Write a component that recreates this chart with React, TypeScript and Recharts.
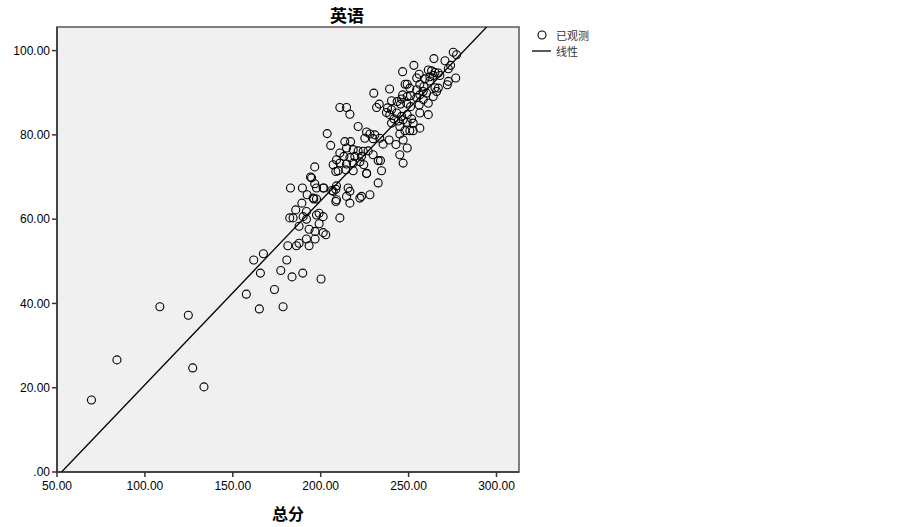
import { ScatterChart, Scatter, XAxis, YAxis, CartesianGrid, ReferenceArea } from "recharts";

// 总分 (x) and 英语 (y), point by point
const totalScores = [
  69.6, 84.1, 108.5, 124.7, 127.2, 133.6,
  157.7, 165.1, 178.6, 173.7, 161.9, 167.4, 165.7, 177.3, 180.7, 183.7, 189.8, 200.2,
  181.3, 186.2, 187.7, 191.9, 193.4, 196.8, 182.4, 184.3, 187.7, 193.4, 196.8, 201.4, 202.9,
  182.8, 189.6, 192.3, 189.3, 185.8, 191.9, 190.0, 191.9, 197.6, 199.1, 201.4, 199.1,
  196.1, 197.6, 194.2, 196.6, 197.6, 201.8, 206.3, 208.6, 208.6, 210.9, 208.6, 196.6, 194.8,
  232.7, 228.0, 223.2, 226.1, 209.0, 215.6, 216.6, 214.7, 216.6, 222.3, 209.0, 207.1, 201.4, 195.7,
  203.7, 205.7, 210.9, 214.7, 216.6, 230.2, 231.8, 233.3, 239.2, 246.6, 253.0, 256.0, 254.6,
  264.4, 270.7, 275.4, 277.3, 273.9, 272.6, 276.8, 272.6, 272.0,
  261.2, 263.1, 265.0, 266.9, 264.0, 262.1, 267.8, 259.3,
  248.0, 249.2, 250.7, 256.4, 258.7, 262.1, 265.0, 266.9, 254.6, 258.3,
  246.6, 249.2, 246.0, 251.1, 254.6, 256.4, 260.2, 264.0, 265.9, 258.3, 261.2, 256.0,
  240.3, 243.5, 245.4, 248.9, 251.1, 238.0, 240.3, 237.4, 239.3, 243.2, 246.0, 249.2, 251.7,
  256.4, 261.2, 256.4, 241.6, 244.1, 246.9, 249.2, 252.6, 240.3, 245.0, 247.9, 250.7, 252.6,
  245.0, 221.3, 226.1, 228.0, 230.8, 225.1, 229.8, 233.6, 235.5, 238.9, 242.8, 246.9, 249.2,
  245.0, 246.9, 213.7, 217.0, 214.7, 218.5, 221.3, 224.2, 227.0, 210.9, 213.2, 216.6, 219.4,
  223.2, 229.8, 232.7, 234.0, 209.0, 207.1, 210.9, 214.7, 218.5, 222.3, 224.5, 209.9, 214.3,
  218.5, 226.1, 234.6,
];

const englishScores = [
  17.1, 26.6, 39.2, 37.2, 24.7, 20.2,
  42.2, 38.7, 39.2, 43.3, 50.3, 51.8, 47.2, 47.8, 50.3, 46.3, 47.2, 45.8,
  53.7, 53.7, 54.3, 55.3, 53.7, 55.3, 60.3, 60.3, 58.3, 57.6, 57.1, 56.8, 56.3,
  67.4, 67.4, 65.8, 63.8, 62.2, 61.8, 60.6, 60.0, 61.0, 61.4, 60.6, 58.9,
  64.8, 64.8, 70.0, 68.4, 67.4, 67.4, 66.8, 67.1, 64.2, 60.3, 71.3, 72.4, 69.8,
  68.6, 65.8, 65.4, 70.8, 67.9, 67.4, 66.6, 65.4, 63.8, 65.0, 64.6, 66.6, 67.4, 65.0,
  80.3, 77.5, 86.5, 86.5, 84.9, 89.9, 86.5, 87.3, 90.9, 95.0, 96.5, 94.4, 93.5,
  98.1, 97.6, 99.6, 99.0, 96.5, 95.7, 93.5, 92.7, 91.9,
  95.4, 95.2, 94.8, 94.7, 94.1, 93.8, 94.1, 93.3,
  92.0, 92.0, 91.1, 92.0, 91.5, 92.8, 91.2, 91.1, 90.7, 90.3,
  89.5, 89.1, 88.5, 89.3, 88.8, 89.5, 89.9, 89.1, 90.3, 88.4, 87.5, 87.1,
  88.1, 87.9, 87.3, 87.5, 86.7, 86.4, 86.0, 85.3, 84.8, 85.2, 84.4, 84.8, 83.8,
  85.2, 84.8, 81.6, 83.8, 83.3, 83.6, 83.0, 82.8, 82.8, 82.0, 81.0, 81.0, 81.0,
  80.2, 82.0, 80.7, 80.2, 80.0, 79.2, 79.1, 79.2, 77.8, 78.8, 77.7, 78.8, 76.9,
  75.3, 73.3, 78.4, 78.4, 76.9, 76.5, 76.2, 76.1, 76.2, 75.7, 74.9, 74.6, 74.9,
  74.9, 75.3, 73.9, 73.9, 74.1, 72.9, 73.3, 73.1, 73.3, 73.6, 72.9, 71.5, 71.7,
  71.5, 70.9, 71.5,
];

// fitted line, ends read where it meets the bottom and top of the frame
const fitX = [52.6, 294.4];
const fitY = [0, 105.6];

const xTicks = [50, 100, 150, 200, 250, 300];
const yTicks = [0, 20, 40, 60, 80, 100];

const observed = totalScores.map((x, i) => ({ x, y: englishScores[i] }));
const fitLine = fitX.map((x, i) => ({ x, y: fitY[i] }));

const FONT = "'Liberation Sans', Arial, sans-serif";
const CJK = "'Noto Sans CJK SC', sans-serif";

function Ring(props: any) {
  return <circle cx={props.cx} cy={props.cy} r={4} fill="none" stroke="#000" strokeWidth={1.1} />;
}

function NoDot() {
  return <g />;
}

function LegendBox() {
  const row = { display: "flex", alignItems: "center", height: 16, fontSize: 11, lineHeight: "16px", color: "#333", fontFamily: CJK };
  return (
    <div style={{ position: "absolute", left: 531, top: 27 }}>
      <div style={row}>
        <svg width={22} height={16}>
          <circle cx={11} cy={8} r={4} fill="none" stroke="#000" strokeWidth={1.1} />
        </svg>
        <span style={{ marginLeft: 3 }}>已观测</span>
      </div>
      <div style={row}>
        <svg width={22} height={16}>
          <line x1={1} y1={8} x2={20} y2={8} stroke="#000" strokeWidth={1.3} />
        </svg>
        <span style={{ marginLeft: 3 }}>线性</span>
      </div>
    </div>
  );
}

export default function App() {
  return (
    <div style={{ position: "absolute", left: 0, top: 0, width: 903, height: 527, background: "#fff" }}>
      <ScatterChart width={903} height={527} margin={{ top: 27, right: 384, bottom: 0, left: 0 }}>
        <CartesianGrid fill="#f0f0f0" horizontal={false} vertical={false} />
        <XAxis
          type="number"
          dataKey="x"
          domain={[50, 312.8]}
          ticks={xTicks}
          allowDataOverflow
          height={55}
          tickSize={5}
          tickMargin={4}
          tickFormatter={(v: number) => v.toFixed(2)}
          tick={{ fontSize: 12, fontFamily: FONT, fill: "#000" }}
          axisLine={{ stroke: "#333", strokeWidth: 1.5 }}
          tickLine={{ stroke: "#333", strokeWidth: 1.5 }}
          label={{
            value: "总分",
            position: "insideBottom",
            offset: 7,
            style: { fontSize: 16, fontWeight: 700, fontFamily: CJK, fill: "#000" },
          }}
        />
        <YAxis
          type="number"
          dataKey="y"
          domain={[0, 105.6]}
          ticks={yTicks}
          allowDataOverflow
          width={57}
          tickSize={5}
          tickMargin={2}
          tickFormatter={(v: number) => (v === 0 ? ".00" : v.toFixed(2))}
          tick={{ fontSize: 12, fontFamily: FONT, fill: "#000" }}
          axisLine={{ stroke: "#333", strokeWidth: 1.5 }}
          tickLine={{ stroke: "#333", strokeWidth: 1.5 }}
        />
        <ReferenceArea x1={50} x2={312.8} y1={0} y2={105.6} fill="none" stroke="#555" strokeWidth={1.5} />
        <Scatter
          name="线性"
          data={fitLine}
          line={{ stroke: "#000", strokeWidth: 1.3 }}
          shape={NoDot}
          isAnimationActive={false}
        />
        <Scatter name="已观测" data={observed} shape={Ring} isAnimationActive={false} />
      </ScatterChart>
      <div
        style={{
          position: "absolute",
          left: 297,
          width: 100,
          top: 2,
          textAlign: "center",
          fontFamily: CJK,
          fontWeight: 700,
          fontSize: 17,
          color: "#000",
        }}
      >
        英语
      </div>
      <LegendBox />
    </div>
  );
}
